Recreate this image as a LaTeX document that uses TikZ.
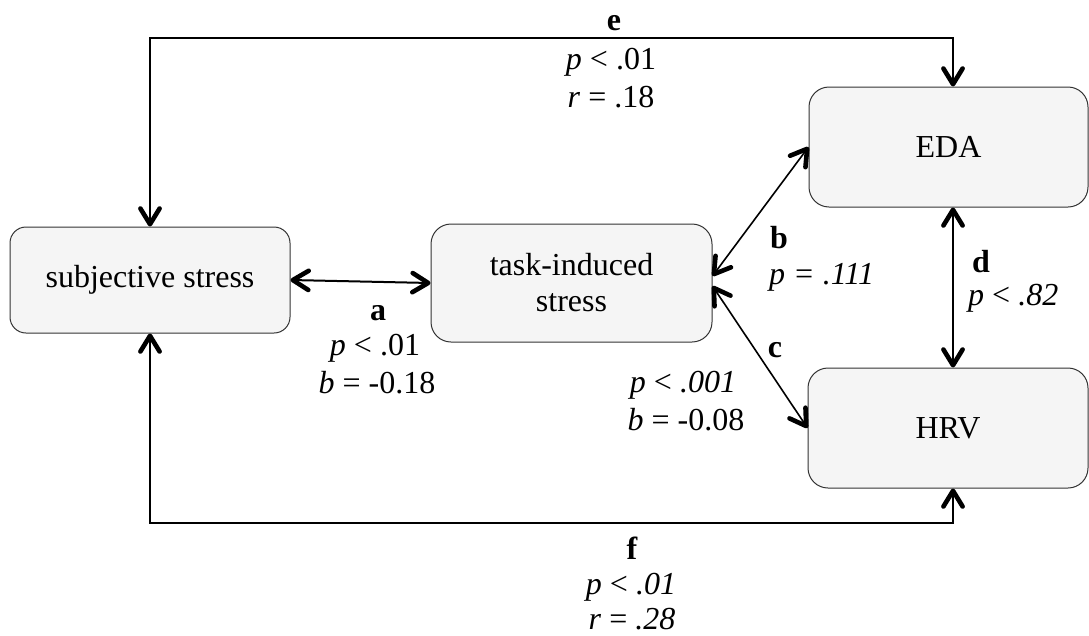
\documentclass[tikz,border=0pt]{standalone}
\usepackage{fontspec}
\setmainfont{Liberation Serif}
\usetikzlibrary{arrows.meta}
\definecolor{boxfill}{HTML}{F5F5F5}
\definecolor{boxline}{HTML}{333333}
\pgfdeclarearrow{
  name = BoldVee,
  parameters = {},
  setup code = {
    \pgfarrowssettipend{0pt}
    \pgfarrowssetlineend{-4pt}
    \pgfarrowssetbackend{-21pt}
    \pgfarrowssetvisualbackend{-4pt}
    \pgfarrowsupperhullpoint{0pt}{0pt}
    \pgfarrowsupperhullpoint{-21pt}{12pt}
  },
  drawing code = {
    \pgfsetdash{}{0pt}
    \pgfsetlinewidth{4.6pt}
    \pgfsetroundcap
    \pgfsetroundjoin
    \pgfpathmoveto{\pgfqpoint{-18pt}{9.6pt}}
    \pgfpathlineto{\pgfqpoint{-2.3pt}{0pt}}
    \pgfpathlineto{\pgfqpoint{-18pt}{-9.6pt}}
    \pgfusepathqstroke
  }
}
\tikzset{
  box/.style={draw=boxline, line width=1pt, fill=boxfill, rounded corners=20pt,
    inner sep=0pt, align=center, font=\fontsize{32}{36}\selectfont},
  lbl/.style={inner sep=0pt, font=\fontsize{32}{36}\selectfont},
  blbl/.style={inner sep=0pt, font=\fontsize{32}{36}\selectfont\bfseries},
  conn/.style={line width=2pt, {BoldVee}-{BoldVee}},
  thinconn/.style={conn, line width=1.6pt}
}
\begin{document}
\begin{tikzpicture}[x=1pt,y=-1pt]
\useasboundingbox (0,0) rectangle (1089,635);
% boxes
\node[box, rounded corners=16pt, minimum width=280pt, minimum height=106pt] (subj) at (150,280) {subjective stress};
\node[box, minimum width=281pt, minimum height=118pt] (task) at (571.5,283) {task-induced\\stress};
\node[box, minimum width=279pt, minimum height=120pt] (eda) at (948.5,147) {EDA};
\node[box, minimum width=280pt, minimum height=120pt] (hrv) at (948,428) {HRV};
% helper coordinates
\coordinate (eL) at (150,38);
\coordinate (eR) at (953,38);
\coordinate (fL) at (150,523);
\coordinate (fR) at (953,523);
\coordinate (dx) at (953,300);
% connectors
\draw[conn] (subj.north) -- (eL) -- (eR) -- (eR |- eda.north);
\draw[conn] (subj.south) -- (fL) -- (fR) -- (fR |- hrv.south);
\draw[conn] (subj.east) -- (task.west);
\draw[thinconn] ([yshift=7pt]task.east) -- (eda.west);
\draw[thinconn] ([yshift=-3pt]task.east) -- (hrv.west);
\draw[conn] (dx |- eda.south) -- (dx |- hrv.north);
% labels
\node[blbl] (le) at (614,23) {e};
\node[lbl] (le1) at (611,62) {\textit{p} < .01};
\node[lbl] (le2) at (611,97) {\textit{r} = .18};
\node[blbl] (la) at (378,313) {a};
\node[lbl] (la1) at (375,348) {\textit{p} < .01};
\node[lbl] (la2) at (377,383) {\textit{b} = -0.18};
\node[blbl, anchor=west] (lb) at (770,238) {b};
\node[lbl, anchor=west] (lb1) at (769,277) {\textit{p = .111}};
\node[blbl, anchor=west] (ld) at (972,262) {d};
\node[lbl, anchor=west] (ld1) at (968,298) {\textit{p} < \textit{.82}};
\node[blbl] (lc) at (775,350) {c};
\node[lbl] (lc1) at (683,385) {\textit{p} < \textit{.001}};
\node[lbl] (lc2) at (686,420) {\textit{b} = -0.08};
\node[blbl] (lf) at (632,548) {f};
\node[lbl] (lf1) at (631,587) {\textit{p} < \textit{.01}};
\node[lbl] (lf2) at (632,619) {\textit{r} = \textit{.28}};
\end{tikzpicture}
\end{document}
